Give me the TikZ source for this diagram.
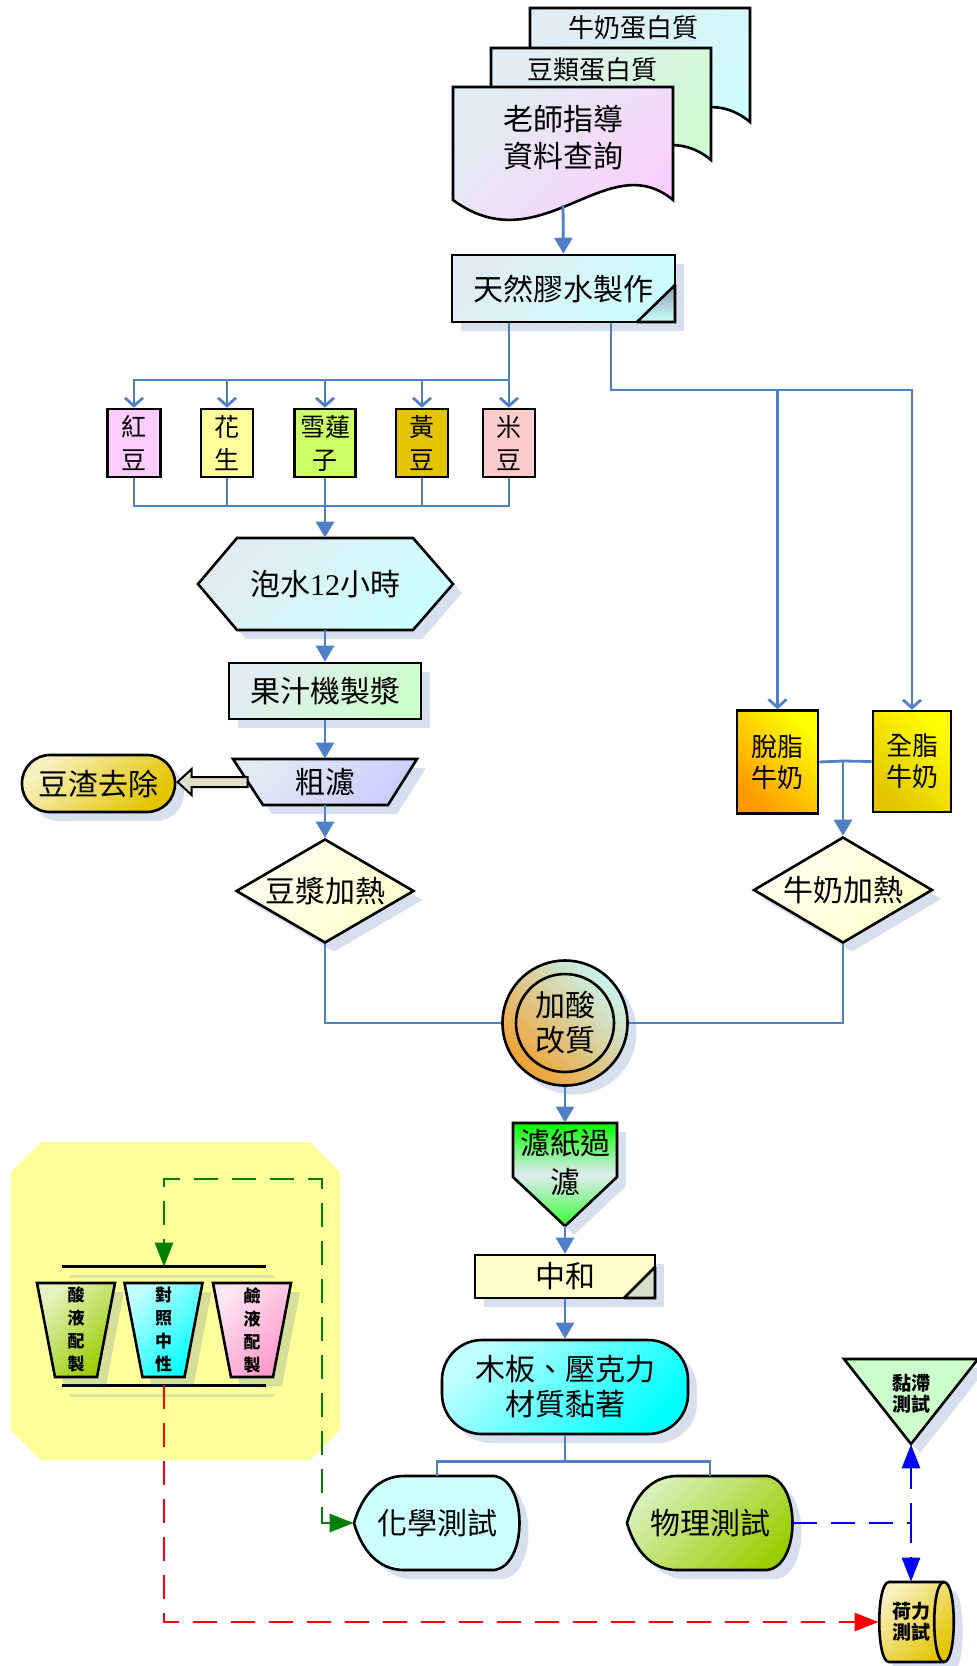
\documentclass[tikz,border=0pt]{standalone}
\usepackage{fontspec}
\usepackage{xcolor}
\usepackage{tikz}
\usetikzlibrary{arrows.meta,positioning,shadows,shapes.geometric}
\newfontfamily\cjk{Noto Sans CJK TC}
\newfontfamily\serifdigits{Liberation Serif}
\definecolor{fcLink}{HTML}{4F7FC4}
\definecolor{fcShade}{HTML}{1F4F9F}
\definecolor{fcPale}{HTML}{E2ECF2}
\definecolor{fcCyan}{HTML}{CCFFFF}
\definecolor{fcMint}{HTML}{CCFFCC}
\definecolor{fcPink}{HTML}{FFCCFF}
\definecolor{fcLemon}{HTML}{FFFF99}
\definecolor{fcLime}{HTML}{CCFF66}
\definecolor{fcGold}{HTML}{E2C400}
\definecolor{fcRose}{HTML}{FFCCCC}
\definecolor{fcLilac}{HTML}{CCCCFF}
\definecolor{fcCream}{HTML}{FFFFCC}
\definecolor{fcOlive}{HTML}{99CC00}
\definecolor{fcSage}{HTML}{D8F0B8}
\definecolor{fcAqua}{HTML}{00FFFF}
\definecolor{fcBlush}{HTML}{FF99CC}
\definecolor{fcOrange}{HTML}{FF9900}
\definecolor{fcAmber}{HTML}{F0A030}
\definecolor{fcIce}{HTML}{C8F4F0}
\definecolor{fcFold}{HTML}{8C9CB2}
\definecolor{fcFoldLight}{HTML}{D6E0C8}
\definecolor{fcGrey}{HTML}{DEDECB}
\definecolor{fcGreen}{HTML}{008000}
\tikzset{
  fc chart/.style={font=\cjk\fontsize{15}{18.5}\selectfont, line join=miter},
  fc text/.style={inner sep=0pt, align=center},
  fc shape/.style={draw=black, line width=1.3pt,
    drop shadow={shadow xshift=4.5pt, shadow yshift=-4.5pt, fill=fcShade, opacity=0.18}},
  fc box/.style={fc shape, fc text},
  fc flat/.style={draw=black, line width=1.3pt, fc text},
  fc sheen/.style={left color=fcPale, right color=#1, shading angle=45},
  fc glow/.style={left color=#1!25!white, right color=#1, shading angle=45},
  fc mid/.style={font=\cjk\fontsize{13}{16}\selectfont},
  fc small/.style={font=\cjk\bfseries\fontsize{9.5}{10.5}\selectfont},
  fc link/.style={draw=fcLink, line width=1.4pt},
  fc arrow/.style={fc link, -{Triangle[length=8pt,width=9pt]}},
  fc fork/.style={fc link, -{Straight Barb[length=4pt,width=9pt]}},
  fc dash/.style={draw=#1, line width=1.4pt, dash pattern=on 12pt off 7pt,
    >={Triangle[length=12pt,width=9pt]}},
  fc bar/.style={line width=1.3pt}
}
\begin{document}
\begin{tikzpicture}[fc chart, x=0.5pt, y=-0.5pt]
\useasboundingbox (0,0) rectangle (977,1666);
% sources
\foreach \l/\t/\b/\c in {530/8/122/fcCyan,491/48/160/fcMint,453/87/200/fcPink}{
  \draw[line width=1.3pt, fc sheen=\c] (\l,\t) -- ++(220,0) -- (\l+220,\b)
    .. controls (\l+154,\b-55) and (\l+88,\b+65) .. (\l,\b) -- cycle;
}
\node[fc text, fc mid] (milkprot) at (633,28) {牛奶蛋白質};
\node[fc text, fc mid] (beanprot) at (592,70) {豆類蛋白質};
\node[fc text] (guide) at (563,138) {老師指導\\資料查詢};
\coordinate (guideend) at (563,205);
\node[fc box, fc sheen=fcCyan, minimum width=111.5pt, minimum height=33.5pt] (glue) at (563.5,288.5) {天然膠水製作};
\fill[top color=fcFold, bottom color=fcCyan] (675,285) -- (675,322) -- (637,322) -- cycle;
\draw[fc bar] (675,285) -- (637,322) (675,285) -- (675,322) -- (637,322);
% beans
\foreach \n/\x/\w/\t/\c in {redbean/134/53/{紅\\豆}/fcPink,peanut/227/52/{花\\生}/fcLemon,
    lotus/325/61/{雪蓮\\子}/fcLime,soybean/422/52/{黃\\豆}/fcGold,ricebean/509/52/{米\\豆}/fcRose}
  \node[fc flat, fill=\c, minimum width=\w*0.5pt, minimum height=34pt,
    font=\cjk\fontsize{12.5}{16.5}\selectfont] (\n) at (\x,443) {\t};
\draw[fc shape, fc sheen=fcCyan] (198,584) -- (237,538) -- (413,538) -- (453,584) -- (413,630) -- (237,630) -- cycle;
\node[fc text, minimum width=127.5pt, minimum height=46pt] (soak) at (325,584) {泡水{\serifdigits 12}小時};
\node[fc box, fc sheen=fcMint, minimum width=96pt, minimum height=28pt] (juice) at (325,691) {果汁機製漿};
\draw[fc shape, fc sheen=fcLilac] (233,759) -- (417,759) -- (388,805) -- (263,805) -- cycle;
\node[fc text, minimum width=77pt, minimum height=23pt] (sieve) at (325,782) {粗濾};
\node[fc box, fc glow=fcGold, rounded corners=14pt, minimum width=76.5pt, minimum height=28.5pt] (dregs) at (98.5,783.5) {豆渣去除};
\node[fc box, diamond, aspect=1.7, fc glow=fcCream, minimum width=89pt, minimum height=52pt] (beanheat) at (325,891) {豆漿加熱};
% milk
\node[fc flat, left color=fcOrange, right color=yellow, shading angle=135, minimum width=40.5pt,
  minimum height=51.5pt, font=\cjk\fontsize{13}{15.5}\selectfont] (skim) at (777.5,762) {脫脂\\牛奶};
\node[fc flat, left color=fcGold, right color=yellow, shading angle=135, minimum width=39pt,
  minimum height=50.5pt, font=\cjk\fontsize{13}{15.5}\selectfont] (whole) at (912,761.5) {全脂\\牛奶};
\node[fc box, diamond, aspect=1.7, fc glow=fcCream, minimum width=89.5pt, minimum height=53pt] (milkheat) at (843,890) {牛奶加熱};
% treatment
\node[fc box, circle, left color=fcAmber, right color=fcIce, shading angle=135, minimum size=62.5pt,
  font=\cjk\fontsize{15}{17.5}\selectfont] (acid) at (565,1023) {加酸\\改質};
\draw[fc bar] (acid.center) circle[radius=24.5pt];
\draw[fc shape, top color=green, bottom color=green!80!white, middle color=fcPale]
  (513,1123) -- (617,1123) -- (617,1177) -- (565,1226) -- (513,1177) -- cycle;
\node[fc text, minimum width=52pt, minimum height=39pt, font=\cjk\fontsize{15}{19.5}\selectfont] (filt) at (565,1162) {濾紙過\\濾};
\coordinate (filttip) at (565,1226);
\node[fc box, fill=fcCream, minimum width=90pt, minimum height=21.5pt] (neut) at (565,1276.5) {中和};
\fill[fcFoldLight] (655,1267) -- (655,1298) -- (624,1298) -- cycle;
\draw[fc bar] (655,1267) -- (624,1298) (655,1267) -- (655,1298) -- (624,1298);
\node[fc box, fc glow=fcAqua, rounded corners=20pt, minimum width=123pt, minimum height=47pt,
  font=\cjk\fontsize{15}{17.5}\selectfont] (wood) at (565,1387) {木板、壓克力\\材質黏著};
% tests
\foreach \n/\l/\a/\b/\t in {chem/354/fcCyan/fcCyan/化學測試,phys/627/fcSage/fcOlive/物理測試}{
  \draw[fc shape, left color=\a, right color=\b, shading angle=45] (\l,1523)
    .. controls (\l+8,1495) and (\l+25,1476) .. (\l+50,1476) -- (\l+140,1476)
    .. controls (\l+174,1480) and (\l+174,1566) .. (\l+140,1570) -- (\l+50,1570)
    .. controls (\l+25,1570) and (\l+8,1551) .. cycle;
  \node[fc text, minimum width=83pt, minimum height=47pt] (\n) at (\l+83,1523) {\t};
}
\draw[fc shape, fill=fcMint] (844,1359) -- (978,1359) -- (911,1444) -- cycle;
\node[fc text, fc small, minimum width=20pt, minimum height=50pt] (visc) at (911,1394) {黏滯\\測試};
\draw[fc shape, fc glow=fcGold] (889,1582) -- (944,1582) .. controls (957,1582) and (957,1662) .. (944,1662)
  -- (889,1662) .. controls (876,1662) and (876,1582) .. cycle;
\draw[fc bar] (944,1582) .. controls (931,1582) and (931,1662) .. (944,1662);
\node[fc text, fc small, minimum width=32pt, minimum height=40pt] (load) at (911,1622) {荷力\\測試};
% solutions
\fill[fcLemon] (41,1142) -- (310,1142) -- (340,1172) -- (340,1430) -- (310,1460) -- (41,1460) -- (11,1430) -- (11,1172) -- cycle;
\node[fc text, minimum width=102pt, minimum height=59pt] (trio) at (164,1326) {};
\draw[fc bar, draw=fcShade, opacity=0.15]
  ([xshift=4pt,yshift=-5pt]trio.north west) -- ([xshift=4pt,yshift=-5pt]trio.north east)
  ([xshift=4pt,yshift=-5pt]trio.south west) -- ([xshift=4pt,yshift=-5pt]trio.south east);
\draw[fc bar] (trio.north west) -- (trio.north east) (trio.south west) -- (trio.south east);
\foreach \n/\x/\c/\t in {acidmix/76/fcOlive/{酸\\液\\配\\製},neutral/163.5/fcAqua/{對\\照\\中\\性},basemix/252/fcBlush/{鹼\\液\\配\\製}}{
  \draw[fc shape, fc glow=\c] (\x-39,1283) -- (\x+39,1283) -- (\x+21,1377) -- (\x-21,1377) -- cycle;
  \node[fc text, font=\cjk\bfseries\fontsize{8.5}{11.5}\selectfont] (\n) at (\x,1330) {\t};
}
% connectors
\coordinate (beanbus) at (509,380);
\coordinate (soakbus) at (325,506);
\coordinate (milkbus) at (611,390);
\coordinate (milkjoin) at (843,761);
\coordinate (greenturn) at (322,1179);
\draw[fc arrow] (guideend) -- (glue.north);
\foreach \n in {redbean,peanut,lotus,soybean,ricebean}{
  \draw[fc fork] (glue.south -| beanbus) -- (beanbus) -| (\n.north);
  \draw[fc link] (\n.south) |- (soakbus);
}
\foreach \n in {skim,whole}
  \draw[fc fork] (glue.south -| milkbus) -- (milkbus) -| (\n.north);
\draw[fc arrow] (lotus.south) -- (soak.north);
\draw[fc arrow] (soak.south) -- (juice.north);
\draw[fc arrow] (juice.south) -- (sieve.north);
\draw[fc arrow] (sieve.south) -- (beanheat.north);
\draw[line width=1pt, fill=fcGrey] (sieve.west) ++(0,-5) -- ++(-56,0) -- ++(0,-8) -- ++(-14,13)
  -- ++(14,13) -- ++(0,-8) -- ++(56,0) -- cycle;
\draw[fc link] (skim.east) -- (milkjoin);
\draw[fc link] (whole.west) -- (milkjoin);
\draw[fc arrow] (milkjoin) -- (milkheat.north);
\draw[fc link] (beanheat.south) |- (acid.west);
\draw[fc link] (milkheat.south) |- (acid.east);
\draw[fc arrow] (acid.south) -- (filt.north);
\draw[fc arrow] (filttip) -- (neut.north);
\draw[fc arrow] (neut.south) -- (wood.north);
\draw[fc link] (wood.south) -- ++(0,26) -| (chem.north);
\draw[fc link] (wood.south) -- ++(0,26) -| (phys.north);
\draw[fc dash=fcGreen, <->] (chem.west) -| (greenturn) -| (trio.north);
\draw[fc dash=red, ->] (trio.south) |- (load.west);
\draw[fc dash=blue, ->] (phys.east) -| (visc.south);
\draw[fc dash=blue, ->] (phys.east) -| (load.north);
\end{tikzpicture}
\end{document}
